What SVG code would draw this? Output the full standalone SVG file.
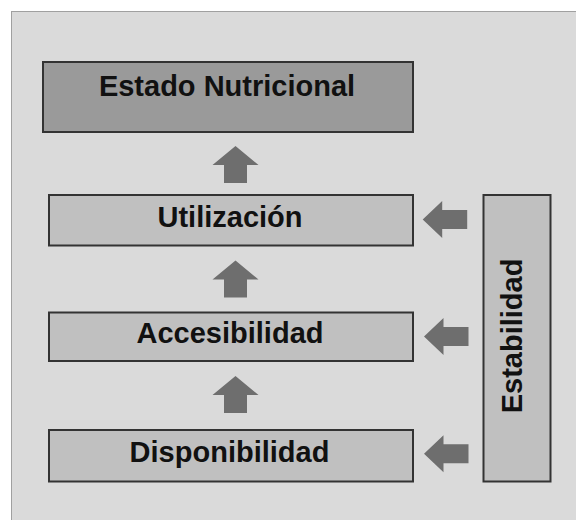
<svg xmlns="http://www.w3.org/2000/svg" xmlns:xlink="http://www.w3.org/1999/xlink" width="576" height="520" viewBox="0 0 576 520">
  <style>
    .box { fill: #c0c0c0; stroke: #333333; stroke-width: 2; }
    .top { fill: #9a9a9a; stroke: #333333; stroke-width: 2; }
    .lbl { font-family: "Liberation Sans", Arial, sans-serif; font-weight: bold; font-size: 29px; fill: #111111; text-anchor: middle; }
    .arrow { fill: #6e6e6e; }
  </style>
  <defs>
    <polygon id="upArrow" class="arrow" points="0,0 23,19 11.5,19 11.5,37 -11.5,37 -11.5,19 -23,19"/>
    <polygon id="leftArrow" class="arrow" points="0,0 19.5,-18.5 19.5,-9.5 44.5,-9.5 44.5,9.5 19.5,9.5 19.5,18.5"/>
  </defs>
  <rect x="0" y="0" width="576" height="520" fill="#ffffff"/>
  <rect x="11.5" y="11.5" width="580" height="520" fill="#dadada" stroke="#a0a0a0" stroke-width="1"/>

  <g id="estado-nutricional">
    <rect class="top" x="43" y="62" width="370" height="70"/>
    <text class="lbl" x="227" y="95.5">Estado Nutricional</text>
  </g>
  <g id="utilizacion">
    <rect class="box" x="49" y="195" width="364" height="50.5"/>
    <text class="lbl" x="230" y="227">Utilización</text>
  </g>
  <g id="accesibilidad">
    <rect class="box" x="49" y="312.5" width="364" height="48.5"/>
    <text class="lbl" x="230" y="342.5">Accesibilidad</text>
  </g>
  <g id="disponibilidad">
    <rect class="box" x="49" y="430" width="364" height="51.5"/>
    <text class="lbl" x="229.5" y="461.5">Disponibilidad</text>
  </g>
  <g id="estabilidad">
    <rect class="box" x="483.5" y="195" width="67" height="286.5"/>
    <text class="lbl" transform="translate(522.3,336) rotate(-90)" x="0" y="0">Estabilidad</text>
  </g>

  <g id="connectors">
    <use xlink:href="#upArrow" x="235.5" y="146"/>
    <use xlink:href="#upArrow" x="235.5" y="260.5"/>
    <use xlink:href="#upArrow" x="235.5" y="376"/>
    <use xlink:href="#leftArrow" x="422.7" y="219.5"/>
    <use xlink:href="#leftArrow" x="424" y="336.5"/>
    <use xlink:href="#leftArrow" x="424" y="453.7"/>
  </g>
</svg>
